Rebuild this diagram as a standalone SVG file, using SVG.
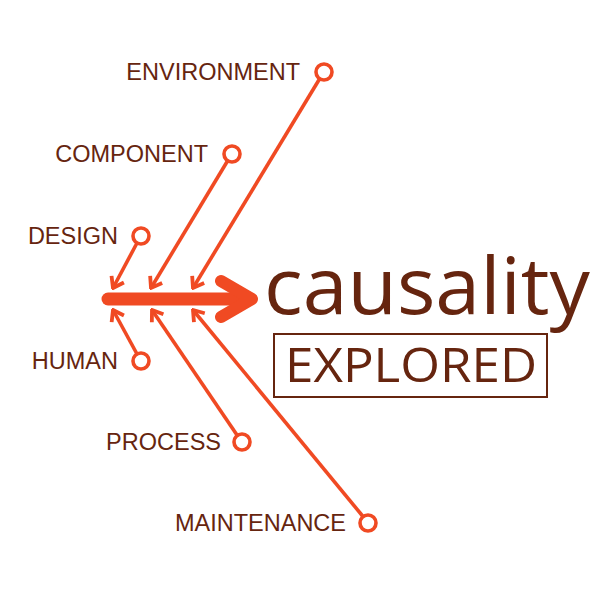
<svg xmlns="http://www.w3.org/2000/svg" width="600" height="600" viewBox="0 0 600 600">
<style>
.lbl{font-family:"Liberation Sans",Arial,sans-serif;font-size:23.5px;fill:#66250f;text-anchor:end}
.node circle{fill:none;stroke:#f04a23;stroke-width:3.6}
.conn line{stroke:#f04a23;stroke-width:3.6;fill:none}
</style>
<defs>
<marker id="ah" viewBox="-13 -9 15 18" markerWidth="15" markerHeight="18" refX="0" refY="0" orient="auto" markerUnits="userSpaceOnUse">
<path d="M-10,-7 L0,0 L-10,7" fill="none" stroke="#f04a23" stroke-width="3.8" stroke-linejoin="miter"/>
</marker>
</defs>
<rect width="600" height="600" fill="#fff"/>
<g id="connectors" class="conn">
<line x1="319.5" y1="79" x2="193" y2="288" marker-end="url(#ah)"/>
<line x1="227.5" y1="161" x2="151" y2="288" marker-end="url(#ah)"/>
<line x1="137" y1="243" x2="113" y2="288" marker-end="url(#ah)"/>
<line x1="137" y1="354" x2="113" y2="310" marker-end="url(#ah)"/>
<line x1="237" y1="435" x2="152" y2="310" marker-end="url(#ah)"/>
<line x1="363" y1="516.5" x2="193" y2="310" marker-end="url(#ah)"/>
</g>
<g id="spine">
<line x1="108" y1="299" x2="248" y2="299" stroke="#f04a23" stroke-width="13" stroke-linecap="round"/>
<path d="M221,281 L252,299 L221,317" fill="none" stroke="#f04a23" stroke-width="12" stroke-linecap="round" stroke-linejoin="round"/>
</g>
<g id="environment" class="node"><circle cx="324" cy="72" r="8"/><text class="lbl" x="300" y="80">ENVIRONMENT</text></g>
<g id="component" class="node"><circle cx="232" cy="154" r="8"/><text class="lbl" x="208" y="162">COMPONENT</text></g>
<g id="design" class="node"><circle cx="141" cy="236" r="8"/><text class="lbl" x="118" y="244">DESIGN</text></g>
<g id="human" class="node"><circle cx="141" cy="361" r="8"/><text class="lbl" x="118" y="369">HUMAN</text></g>
<g id="process" class="node"><circle cx="242" cy="442" r="8"/><text class="lbl" x="221" y="450">PROCESS</text></g>
<g id="maintenance" class="node"><circle cx="368" cy="523" r="8"/><text class="lbl" x="346" y="531">MAINTENANCE</text></g>
<g id="title">
<text x="264" y="314" font-family="'Open Sans','Noto Sans',sans-serif" font-size="79" fill="#66250f" textLength="326" lengthAdjust="spacingAndGlyphs">causality</text>
<rect x="274" y="334" width="273" height="63" fill="none" stroke="#66250f" stroke-width="2"/>
<text x="285" y="382" font-family="'Open Sans','Noto Sans',sans-serif" font-size="48" fill="#66250f" textLength="252" lengthAdjust="spacingAndGlyphs">EXPLORED</text>
</g>
</svg>
